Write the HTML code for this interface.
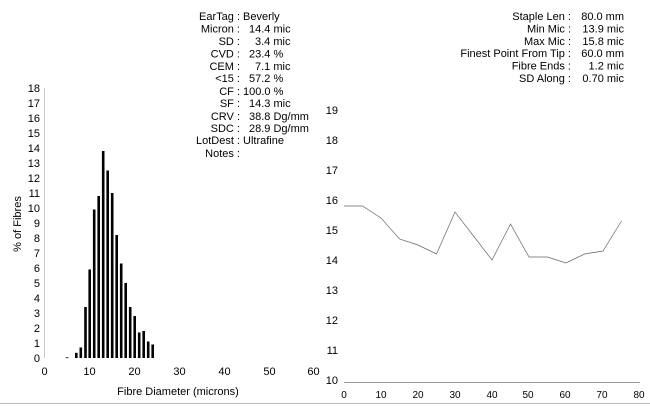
<!DOCTYPE html>
<html><head><meta charset="utf-8"><style>
html,body{margin:0;padding:0;background:#fff;width:650px;height:406px;overflow:hidden}
svg{display:block;font-family:"Liberation Sans",Arial,sans-serif;font-size:11px;fill:#000}
</style></head><body>
<svg width="650" height="406" viewBox="0 0 650 406" xmlns="http://www.w3.org/2000/svg">
<g text-anchor="end">
<text x="240" y="20">EarTag :</text>
<text x="240" y="32.5">Micron :</text>
<text x="240" y="45">SD :</text>
<text x="240" y="57.5">CVD :</text>
<text x="240" y="70">CEM :</text>
<text x="240" y="82">&lt;15 :</text>
<text x="240" y="95">CF :</text>
<text x="240" y="107">SF :</text>
<text x="240" y="120">CRV :</text>
<text x="240" y="132">SDC :</text>
<text x="240" y="144">LotDest :</text>
<text x="240" y="157">Notes :</text>
</g>
<g>
<text x="243" y="20">Beverly</text>
<text x="249" y="32.5">14.4 mic</text>
<text x="255" y="45">3.4 mic</text>
<text x="249" y="57.5">23.4 %</text>
<text x="255" y="70">7.1 mic</text>
<text x="249" y="82">57.2 %</text>
<text x="243" y="95">100.0 %</text>
<text x="249" y="107">14.3 mic</text>
<text x="249" y="120">38.8 Dg/mm</text>
<text x="249" y="132">28.9 Dg/mm</text>
<text x="243" y="144">Ultrafine</text>
</g>
<g text-anchor="end">
<text x="571" y="20">Staple Len :</text>
<text x="571" y="32.5">Min Mic :</text>
<text x="571" y="45">Max Mic :</text>
<text x="571" y="57">Finest Point From Tip :</text>
<text x="571" y="69.5">Fibre Ends :</text>
<text x="571" y="82">SD Along :</text>
<text x="624" y="20">80.0 mm</text>
<text x="624" y="32.5">13.9 mic</text>
<text x="624" y="45">15.8 mic</text>
<text x="624" y="57">60.0 mm</text>
<text x="624" y="69.5">1.2 mic</text>
<text x="624" y="82">0.70 mic</text>
</g>
<line x1="44.5" y1="88" x2="44.5" y2="358" stroke="#ccc" stroke-width="1"/>
<g text-anchor="end">
<text x="40" y="362">0</text><text x="40" y="347">1</text><text x="40" y="332">2</text><text x="40" y="317">3</text><text x="40" y="302">4</text><text x="40" y="287">5</text><text x="40" y="272">6</text><text x="40" y="257">7</text><text x="40" y="242">8</text><text x="40" y="227">9</text><text x="40" y="212">10</text><text x="40" y="197">11</text><text x="40" y="182">12</text><text x="40" y="167">13</text><text x="40" y="152">14</text><text x="40" y="137">15</text><text x="40" y="122">16</text><text x="40" y="107">17</text><text x="40" y="92">18</text>
</g>
<text transform="translate(21,224) rotate(-90)" text-anchor="middle">% of Fibres</text>
<g text-anchor="middle">
<text x="44.5" y="375">0</text><text x="89.5" y="375">10</text><text x="134.5" y="375">20</text><text x="179.5" y="375">30</text><text x="224.5" y="375">40</text><text x="269.5" y="375">50</text><text x="313.5" y="375">60</text>
<text x="178" y="395">Fibre Diameter (microns)</text>
</g>
<g fill="#000">
<rect x="65.8" y="357.3" width="2.6" height="0.8"/>
<rect x="75" y="352.8" width="2.6" height="5.2"/>
<rect x="79.5" y="347.5" width="2.6" height="10.5"/>
<rect x="84.2" y="307" width="2.6" height="51"/>
<rect x="88.4" y="269.5" width="2.6" height="88.5"/>
<rect x="92.9" y="209.5" width="2.6" height="148.5"/>
<rect x="97.4" y="196" width="2.6" height="162"/>
<rect x="101.9" y="151" width="2.6" height="207"/>
<rect x="106.4" y="170.5" width="2.6" height="187.5"/>
<rect x="110.9" y="193" width="2.6" height="165"/>
<rect x="115.4" y="235" width="2.6" height="123"/>
<rect x="119.9" y="263.5" width="2.6" height="94.5"/>
<rect x="124.4" y="283" width="2.6" height="75"/>
<rect x="128.9" y="307" width="2.6" height="51"/>
<rect x="133.4" y="316" width="2.6" height="42"/>
<rect x="137.9" y="332.5" width="2.6" height="25.5"/>
<rect x="142.4" y="331" width="2.6" height="27"/>
<rect x="146.9" y="341.5" width="2.6" height="16.5"/>
<rect x="151.4" y="344.5" width="2.6" height="13.5"/>
</g>
<line x1="344" y1="382.5" x2="640" y2="382.5" stroke="#999" stroke-width="1"/>
<g text-anchor="end">
<text x="338" y="384">10</text><text x="338" y="354">11</text><text x="338" y="324">12</text><text x="338" y="294">13</text><text x="338" y="264">14</text><text x="338" y="234">15</text><text x="338" y="204">16</text><text x="338" y="174">17</text><text x="338" y="144">18</text><text x="338" y="114">19</text>
</g>
<g text-anchor="middle" font-size="10">
<text x="344" y="398">0</text><text x="381" y="398">10</text><text x="418" y="398">20</text><text x="455" y="398">30</text><text x="492" y="398">40</text><text x="528" y="398">50</text><text x="565" y="398">60</text><text x="602" y="398">70</text><text x="639" y="398">80</text>
</g>
<polyline fill="none" stroke="#666" stroke-width="0.7" points="344,206 362.5,206 381,218 399.5,239 418,245 436.5,254 455,212 473.5,236 492,260 510.5,224 529,257 547.5,257 566,263 584.5,254 603,251 621.5,221"/>
<line x1="0" y1="403.5" x2="650" y2="403.5" stroke="#bbb" stroke-width="1"/>
</svg>
</body></html>
